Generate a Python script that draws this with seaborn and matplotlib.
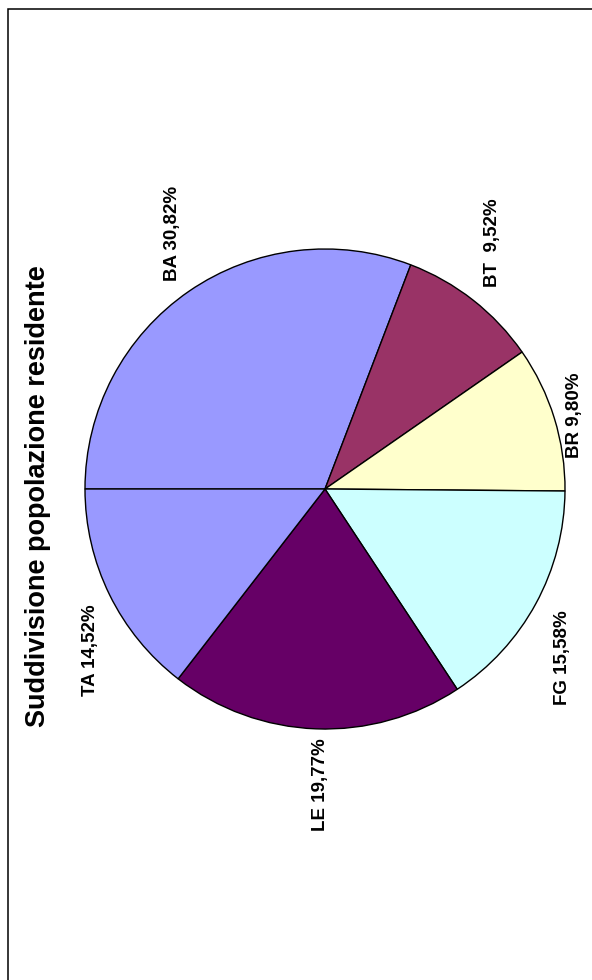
import matplotlib
matplotlib.use("Agg")
import matplotlib.pyplot as plt
import seaborn as sns

# data
provinces = ["BA", "BT", "BR", "FG", "LE", "TA"]
shares = [30.82, 9.52, 9.80, 15.58, 19.77, 14.52]
label_texts = ["BA 30,82%", "BT  9,52%", "BR 9,80%", "FG 15,58%", "LE 19,77%", "TA 14,52%"]
slice_colors = ["#9999FF", "#993366", "#FFFFCC", "#CCFFFF", "#660066", "#9999FF"]
title = "Suddivisione popolazione residente"

W, H = 592, 980

sns.set_theme(style="white")
plt.rcParams["font.family"] = ["Liberation Sans", "DejaVu Sans"]

fig = plt.figure(figsize=(W / 100, H / 100), dpi=100)
ax = fig.add_axes([0, 0, 1, 1])

# chart is drawn rotated a quarter turn (Excel-style portrait page)
ax.pie(shares, colors=slice_colors, startangle=180, counterclock=False,
       center=(325, H - 489), radius=240,
       wedgeprops=dict(edgecolor="black", linewidth=1.0))

ax.set_xlim(0, W)
ax.set_ylim(0, H)
ax.set_aspect("equal")
ax.axis("off")

# label placement (image pixel coords, y from top)
label_pos = [(173, 233), (492, 243), (575, 415), (562, 658), (320, 785), (90, 650)]
for txt, (px, py) in zip(label_texts, label_pos):
    ax.text(px, H - py, txt, rotation=90, ha="center", va="center",
            fontsize=13.5, fontweight="bold", color="black")

ax.text(38, H - 496, title, rotation=90, ha="center", va="center",
        fontsize=19.5, fontweight="bold", color="black")

# page frame
ax.plot([7.5, 7.5, W], [0, H - 9, H - 9], color="black", linewidth=1.1,
        solid_joinstyle="miter", clip_on=False)

fig.savefig("out.png", dpi=100)
